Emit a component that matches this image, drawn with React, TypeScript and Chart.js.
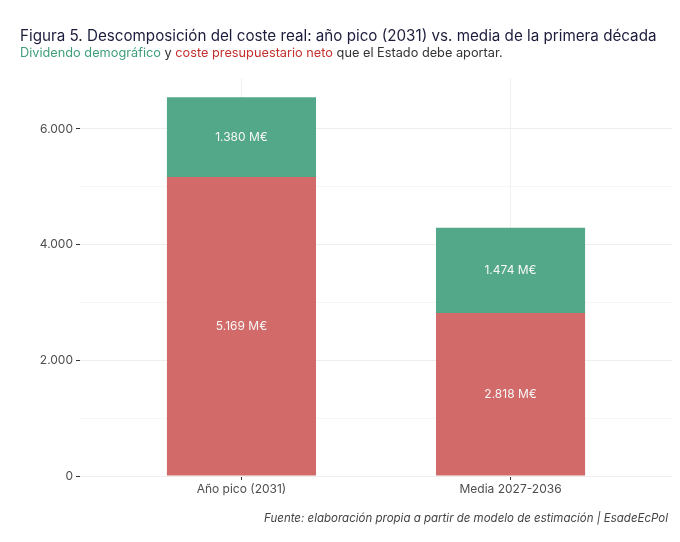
import React, { useEffect, useRef } from "react";
import { Chart, registerables } from "chart.js";

Chart.register(...registerables);

const categories = ["Año pico (2031)", "Media 2027-2036"];
const costeNeto = [5169, 2818];
const dividendo = [1380, 1474];
const yTicks = [0, 2000, 4000, 6000];
const yMinor = [1000, 3000, 5000];

const GREEN = "#53a889";
const RED = "#d16a68";
const FONT = "Inter, 'Noto Sans', sans-serif";

const fmt = (n: number) => String(n).replace(/\B(?=(\d{3})+(?!\d))/g, ".");

const barLabels = {
  id: "barLabels",
  afterDatasetsDraw(chart: Chart) {
    const ctx = chart.ctx;
    ctx.save();
    ctx.fillStyle = "#f7f7f7";
    ctx.font = `12px ${FONT}`;
    ctx.textAlign = "center";
    ctx.textBaseline = "middle";
    chart.data.datasets.forEach((ds, di) => {
      const meta = chart.getDatasetMeta(di);
      meta.data.forEach((el: any, i) => {
        const v = (ds.data[i] as any).y;
        ctx.fillText(`${fmt(v)} M€`, el.x, (el.y + el.base) / 2);
      });
    });
    ctx.restore();
  },
};

const renderChart = (canvas: HTMLCanvasElement) => {
  const ctx = canvas.getContext("2d");
  if (!ctx) return;
  return new Chart(ctx, {
    type: "bar",
    data: {
      datasets: [
        {
          label: "Coste presupuestario neto",
          data: costeNeto.map((y, i) => ({ x: i + 1, y })),
          backgroundColor: RED,
        },
        {
          label: "Dividendo demográfico",
          data: dividendo.map((y, i) => ({ x: i + 1, y })),
          backgroundColor: GREEN,
        },
      ],
    },
    options: {
      animation: false,
      responsive: true,
      maintainAspectRatio: false,
      barPercentage: 0.554,
      categoryPercentage: 1,
      layout: { padding: { left: 0, right: 8, top: 78, bottom: 42 } },
      plugins: { legend: { display: false }, tooltip: { enabled: false } },
      scales: {
        x: {
          type: "linear",
          stacked: true,
          offset: false,
          bounds: "data",
          min: 0.4,
          max: 2.6,
          afterBuildTicks: (s: any) => {
            s.ticks = categories.map((_, i) => ({ value: i + 1 }));
          },
          afterFit: (s: any) => {
            s.height = 24;
          },
          border: { display: false },
          grid: { offset: false, color: "#f0f0f0", tickColor: "#333", tickLength: 4 },
          ticks: {
            color: "#4d4d4d",
            font: { family: FONT, size: 12 },
            padding: 2,
            callback: (v: any) => categories[Number(v) - 1] ?? "",
          },
        },
        y: {
          stacked: true,
          min: 0,
          max: 6880,
          afterBuildTicks: (s: any) => {
            s.ticks = [...yTicks, ...yMinor].sort((a, b) => a - b).map((value) => ({ value }));
          },
          afterFit: (s: any) => {
            s.width = 80;
          },
          border: { display: false },
          grid: {
            color: (c: any) => (yTicks.includes(c.tick?.value) ? "#eeeeee" : "#f6f6f6"),
            tickColor: (c: any) => (yTicks.includes(c.tick?.value) ? "#333" : "rgba(0,0,0,0)"),
            tickLength: 4,
          },
          ticks: {
            color: "#4d4d4d",
            font: { family: FONT, size: 12 },
            padding: 3,
            callback: (v: any) => (yTicks.includes(Number(v)) ? fmt(Number(v)) : ""),
          },
        },
      },
    },
    plugins: [barLabels],
  });
};

export default function App() {
  const chartRef = useRef<HTMLCanvasElement>(null);
  useEffect(() => {
    document.body.style.margin = "0";
    if (!chartRef.current) return;
    const chart = renderChart(chartRef.current);
    return () => {
      chart?.destroy();
    };
  }, []);

  return (
    <div style={{ position: "relative", width: 680, height: 542, background: "#fff", fontFamily: FONT, overflow: "hidden" }}>
      <div style={{ position: "absolute", inset: 0 }}>
        <canvas ref={chartRef} />
      </div>
      <div style={{ position: "absolute", left: 20, top: 26, fontSize: 15.2, color: "#1c1c3c", whiteSpace: "nowrap" }}>
        Figura 5. Descomposición del coste real: año pico (2031) vs. media de la primera década
      </div>
      <div style={{ position: "absolute", left: 20, top: 45, fontSize: 12.75, color: "#333", whiteSpace: "nowrap" }}>
        <span style={{ color: "#3f9f7b" }}>Dividendo demográfico</span> y{" "}
        <span style={{ color: "#c4302f" }}>coste presupuestario neto</span> que el Estado debe aportar.
      </div>
      <div style={{ position: "absolute", right: 12, top: 511, fontSize: 11.5, fontStyle: "italic", color: "#444", whiteSpace: "nowrap" }}>
        Fuente: elaboración propia a partir de modelo de estimación | EsadeEcPol
      </div>
    </div>
  );
}
